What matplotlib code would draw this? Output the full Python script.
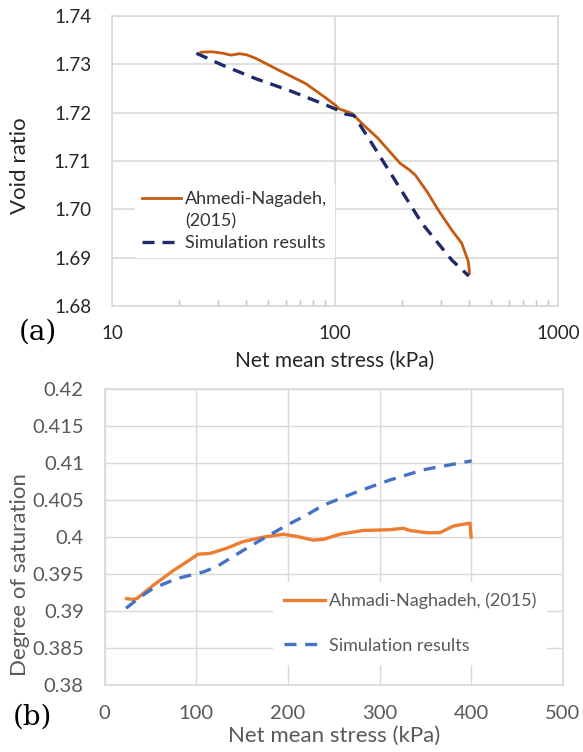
import matplotlib
matplotlib.use("Agg")
import matplotlib.pyplot as plt
from matplotlib.lines import Line2D
from matplotlib.ticker import FixedLocator, NullFormatter, LogLocator

plt.rcParams['font.family'] = ['Lato', 'DejaVu Sans']

# ---- Panel (a): void ratio vs net mean stress (log) ----
exp_a_p = [24.7, 28, 31.4, 34.2, 37.2, 40, 44.3, 54.3, 74, 90, 100.7, 104, 115.5, 119.5,
           134.6, 155, 174, 196, 215, 229, 260, 291, 334, 370, 396, 400, 400]
exp_a_e = [1.7325, 1.7326, 1.7323, 1.7319, 1.7322, 1.7320, 1.7312, 1.7291, 1.7260, 1.7232,
           1.7215, 1.7208, 1.7201, 1.7198, 1.7174, 1.7148, 1.7122, 1.7095, 1.7082, 1.7071,
           1.7035, 1.6998, 1.6957, 1.6930, 1.6892, 1.6875, 1.6864]
sim_a_p = [23.9, 31.4, 44.3, 62.3, 87.7, 100, 111.7, 121.6, 146.5, 174, 245.5, 334, 398]
sim_a_e = [1.7323, 1.7298, 1.7270, 1.7246, 1.7219, 1.7208, 1.7197, 1.7194, 1.7136, 1.7081,
           1.6971, 1.6895, 1.6862]
label_exp_a = "Ahmedi-Nagadeh,"
label_exp_a2 = "(2015)"
label_sim = "Simulation results"
yticks_a = [1.68, 1.69, 1.70, 1.71, 1.72, 1.73, 1.74]
xticks_a = [10, 100, 1000]

# ---- Panel (b): degree of saturation vs net mean stress ----
exp_b_p = [24, 30, 35, 42, 53, 75, 90, 102, 115, 133, 151, 173, 195, 209.6, 227.7, 238.6,
           257, 282, 311, 326, 333, 351.5, 366, 380.6, 398.8, 400]
exp_b_s = [0.3917, 0.3916, 0.3917, 0.3924, 0.3935, 0.3955, 0.3967, 0.3977, 0.3978, 0.3985,
           0.3994, 0.4000, 0.4004, 0.4001, 0.3996, 0.3997, 0.4004, 0.4009, 0.4010, 0.4012,
           0.4009, 0.4006, 0.4006, 0.4015, 0.4019, 0.4000]
sim_b_p = [23.3, 38.5, 53, 78.6, 107.6, 122, 151, 173, 198.7, 220.5, 238.6, 275, 311, 348, 400.6]
sim_b_s = [0.3904, 0.3919, 0.3931, 0.3944, 0.3953, 0.3960, 0.3982, 0.3998, 0.4016, 0.4030,
           0.4043, 0.4061, 0.4077, 0.4091, 0.4103]
label_exp_b = "Ahmadi-Naghadeh, (2015)"
yticks_b = [0.38, 0.385, 0.39, 0.395, 0.4, 0.405, 0.41, 0.415, 0.42]
yticklabels_b = ["0.38", "0.385", "0.39", "0.395", "0.4", "0.405", "0.41", "0.415", "0.42"]
xticks_b = [0, 100, 200, 300, 400, 500]

W, H = 583, 752
fig = plt.figure(figsize=(W / 100, H / 100), dpi=100)
grid_c = '#D9D9D9'
dark = '#262626'
grey = '#595959'

# ---------- top axes ----------
ax1_l, ax1_t, ax1_w, ax1_h = 112, 16, 446, 290
ax1 = fig.add_axes([ax1_l / W, 1 - (ax1_t + ax1_h) / H, ax1_w / W, ax1_h / H])
ax1.set_xscale('log')
ax1.set_xlim(10, 1000)
ax1.set_ylim(1.68, 1.74)
ax1.plot(exp_a_p, exp_a_e, color='#C55A11', lw=2.0, solid_capstyle='butt', zorder=3)
ax1.plot(sim_a_p, sim_a_e, color='#1F2A6B', lw=2.4, dashes=(3.6, 2.4), zorder=3)
ax1.set_yticks(yticks_a)
ax1.set_yticklabels([f"{v:.2f}" for v in yticks_a])
ax1.xaxis.set_major_locator(FixedLocator(xticks_a))
ax1.set_xticklabels([str(v) for v in xticks_a])
ax1.xaxis.set_minor_locator(LogLocator(base=10, subs=range(2, 10)))
ax1.xaxis.set_minor_formatter(NullFormatter())
ax1.grid(True, which='major', color=grid_c, lw=1.2, zorder=0)
for s in ax1.spines.values():
    s.set_color(grid_c)
    s.set_linewidth(1.2)
ax1.tick_params(axis='y', length=0, labelsize=13.5, colors=dark, pad=15)
ax1.tick_params(axis='x', which='major', length=0, labelsize=13.5, colors=dark, pad=14)
ax1.tick_params(axis='x', which='minor', direction='in', length=4, color='#BFBFBF', width=1)
ax1.set_ylabel("Void ratio", fontsize=16, color=dark)
ax1.yaxis.set_label_coords((30 - ax1_l) / ax1_w, (ax1_t + ax1_h - 166) / ax1_h)
ax1.set_xlabel("Net mean stress (kPa)", fontsize=15, color=dark, labelpad=6)
fs1 = 13
h1 = [Line2D([], [], color='#C55A11', lw=2.0),
      Line2D([], [], color='none'),
      Line2D([], [], color='#1F2A6B', lw=2.4, dashes=(3.6, 2.4))]
leg1 = ax1.legend(h1, [label_exp_a, label_exp_a2, label_sim], loc='upper left',
                  bbox_to_anchor=((134.5 - ax1_l) / ax1_w, (ax1_t + ax1_h - 184) / ax1_h),
                  borderaxespad=0,
                  frameon=True, fancybox=False, framealpha=1, edgecolor='white',
                  fontsize=fs1, handlelength=2.2, handletextpad=0.22,
                  labelspacing=0.33, borderpad=0.4, labelcolor='#333333')
leg1.get_frame().set_linewidth(0)
fig.text(19 / W, 1 - 332 / H, "(a)", fontsize=20, family='DejaVu Serif',
         ha='left', va='center', color='black')

# ---------- bottom axes ----------
ax2_l, ax2_t, ax2_w, ax2_h = 104.7, 389, 458, 296.3
ax2 = fig.add_axes([ax2_l / W, 1 - (ax2_t + ax2_h) / H, ax2_w / W, ax2_h / H])
ax2.set_xlim(0, 500)
ax2.set_ylim(0.38, 0.42)
ax2.plot(exp_b_p, exp_b_s, color='#ED7D31', lw=2.4, zorder=3)
ax2.plot(sim_b_p, sim_b_s, color='#4472C4', lw=2.4, dashes=(3.6, 2.6), zorder=3)
ax2.set_yticks(yticks_b)
ax2.set_yticklabels(yticklabels_b)
ax2.set_xticks(xticks_b)
ax2.set_xticklabels([str(v) for v in xticks_b])
ax2.grid(True, color=grid_c, lw=1.0, zorder=0)
for s in ax2.spines.values():
    s.set_color(grid_c)
    s.set_linewidth(1.2)
ax2.tick_params(axis='both', length=0, labelsize=14.5, colors=grey)
ax2.tick_params(axis='y', pad=15)
ax2.tick_params(axis='x', pad=14)
ax2.set_ylabel("Degree of saturation", fontsize=16, color=grey)
ax2.yaxis.set_label_coords((30 - ax2_l) / ax2_w, (ax2_t + ax2_h - 575) / ax2_h)
ax2.set_xlabel("Net mean stress (kPa)", fontsize=16, color=grey, labelpad=3)
fs2 = 13
h2 = [Line2D([], [], color='#ED7D31', lw=2.4),
      Line2D([], [], color='#4472C4', lw=2.4, dashes=(3.6, 2.6))]
leg2 = ax2.legend(h2, [label_exp_b, label_sim], loc='upper left',
                  bbox_to_anchor=((273 - ax2_l) / ax2_w, (ax2_t + ax2_h - 582) / ax2_h),
                  borderaxespad=0,
                  frameon=True, fancybox=False, framealpha=1, edgecolor='white',
                  fontsize=fs2, handlelength=2.27, handletextpad=0.22,
                  labelspacing=1.57, borderpad=0.6, labelcolor=grey)
leg2.get_frame().set_linewidth(0)
fig.text(13 / W, 1 - 717 / H, "(b)", fontsize=20, family='DejaVu Serif',
         ha='left', va='center', color='black')

fig.savefig("out.png", dpi=100)
